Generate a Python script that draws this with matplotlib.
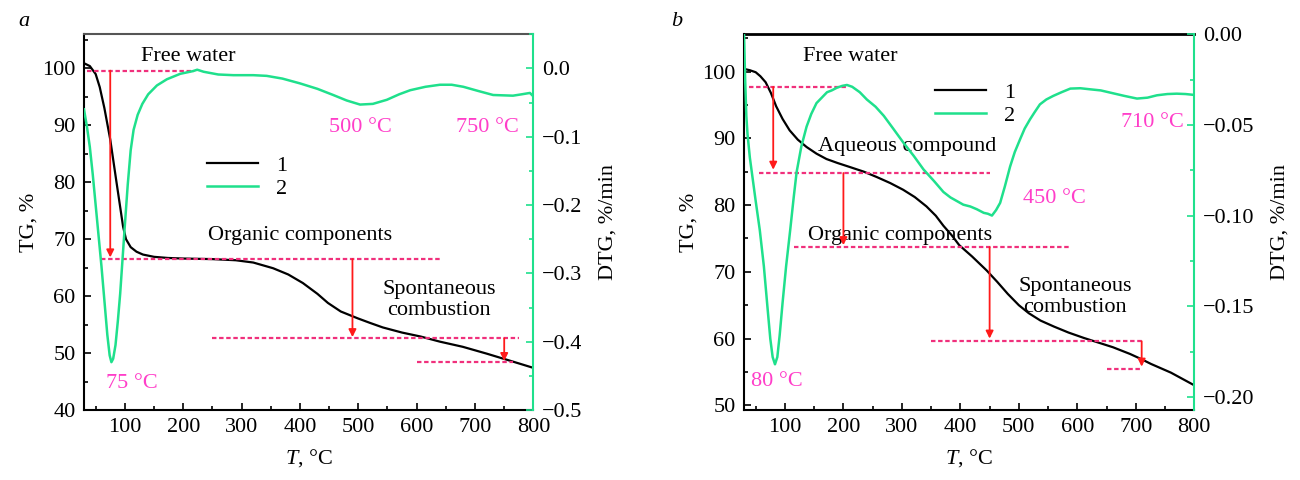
import numpy as np
import matplotlib
matplotlib.use('Agg')
import matplotlib.pyplot as plt
from matplotlib.ticker import MultipleLocator

plt.rcParams['font.family'] = ['Liberation Serif', 'DejaVu Serif']
plt.rcParams['mathtext.fontset'] = 'custom'
plt.rcParams['mathtext.rm'] = 'Liberation Serif'
plt.rcParams['mathtext.it'] = 'Liberation Serif:italic'
plt.rcParams['font.size'] = 16

# ---------------- panel a data ----------------
T_a_tg = [30, 40, 50, 57, 65, 75, 85, 97, 102, 110, 120, 131, 150, 174, 200, 250, 290, 320,
          354, 380, 405, 430, 448, 470, 499, 520, 542, 575, 607, 640, 679, 720, 765, 800]
TG_a = [100.9, 100.4, 99.0, 96.7, 93.0, 87.5, 80.5, 72.2, 70.0, 68.6, 67.8, 67.3, 66.9, 66.7,
        66.6, 66.5, 66.3, 65.9, 64.9, 63.8, 62.3, 60.4, 58.8, 57.3, 56.1, 55.3, 54.5, 53.6,
        52.9, 52.0, 51.1, 49.9, 48.5, 47.4]

T_a_dtg = [30, 35, 40, 45, 50, 55, 60, 65, 70, 74, 77, 80, 84, 88, 92, 96, 100, 105, 110, 115,
           122, 130, 140, 155, 172, 195, 217, 224, 235, 260, 286, 320, 343, 370, 400, 430, 457,
           480, 503, 525, 549, 570, 589, 615, 640, 660, 680, 705, 731, 765, 780, 794, 800]
DTG_a = [-0.06, -0.085, -0.115, -0.155, -0.20, -0.245, -0.29, -0.34, -0.39, -0.42, -0.43,
         -0.425, -0.405, -0.37, -0.33, -0.28, -0.23, -0.17, -0.12, -0.09, -0.068, -0.052,
         -0.038, -0.025, -0.016, -0.008, -0.004, -0.002, -0.005, -0.009, -0.010, -0.010,
         -0.011, -0.015, -0.022, -0.030, -0.039, -0.047, -0.053, -0.052, -0.046, -0.038,
         -0.032, -0.027, -0.024, -0.024, -0.027, -0.033, -0.039, -0.040, -0.038, -0.036, -0.041]

# dashed levels (TG value, T start, T end) and arrows (T, TG from, TG to)
lev_a_y = [99.6, 66.5, 52.6, 48.4]
lev_a_x0 = [35, 60, 250, 600]
lev_a_x1 = [218, 640, 775, 765]
arr_a_x = [75, 490, 750]
arr_a_from = [99.6, 66.5, 52.6]
arr_a_to = [66.8, 52.8, 48.6]

# ---------------- panel b data ----------------
T_b_tg = [30, 40, 50, 58, 67, 76, 85, 96, 108, 122, 137, 154, 171, 190, 211, 235, 257, 280,
          302, 322, 342, 358, 371, 385, 398, 420, 445, 463, 481, 500, 517, 537, 560, 585, 611,
          636, 661, 690, 710, 726, 760, 800]
TG_b = [100.4, 100.2, 99.9, 99.3, 98.4, 96.8, 94.8, 92.9, 91.2, 89.8, 88.7, 87.7, 86.9, 86.3,
        85.7, 85.0, 84.2, 83.3, 82.3, 81.2, 79.8, 78.4, 76.9, 75.5, 74.0, 72.3, 70.2, 68.5,
        66.7, 65.0, 63.8, 62.7, 61.8, 60.9, 60.1, 59.4, 58.7, 57.7, 56.9, 56.2, 54.9, 53.0]

T_b_dtg = [30, 32, 34, 36, 40, 45, 50, 57, 64, 70, 75, 79, 83, 87, 91, 96, 102, 109, 115, 120,
           128, 137, 145, 154, 163, 172, 180, 189, 198, 206, 215, 228, 240, 255, 269, 285, 303,
           320, 337, 355, 371, 383, 394, 405, 417, 428, 440, 447, 454, 461, 468, 476, 485, 493,
           502, 510, 519, 527, 536, 547, 559, 573, 588, 605, 622, 640, 656, 680, 702, 720, 736,
           754, 770, 785, 800]
DTG_b = [0.0, -0.025, -0.045, -0.055, -0.068, -0.080, -0.092, -0.108, -0.128, -0.150, -0.168,
         -0.178, -0.182, -0.178, -0.166, -0.148, -0.128, -0.108, -0.090, -0.076, -0.062,
         -0.051, -0.044, -0.038, -0.035, -0.032, -0.031, -0.0295, -0.0285, -0.028, -0.029,
         -0.032, -0.036, -0.040, -0.045, -0.052, -0.060, -0.067, -0.0746, -0.081, -0.087,
         -0.090, -0.092, -0.094, -0.095, -0.0965, -0.0985, -0.099, -0.100, -0.097, -0.093,
         -0.084, -0.073, -0.065, -0.058, -0.052, -0.047, -0.043, -0.0387, -0.036, -0.034,
         -0.032, -0.030, -0.0298, -0.0304, -0.031, -0.0322, -0.034, -0.0355, -0.035, -0.0337,
         -0.033, -0.0328, -0.033, -0.0335]

lev_b_y = [97.7, 84.8, 73.7, 59.6, 55.5]
lev_b_x0 = [38, 56, 115, 350, 650]
lev_b_x1 = [206, 450, 585, 710, 710]
arr_b_x = [80, 200, 450, 710]
arr_b_from = [97.7, 84.8, 73.7, 59.6]
arr_b_to = [85.3, 74.0, 60.0, 55.8]

GREEN = '#1fe08c'
MAG = '#ff3ec9'
DASH = '#f0307c'

fig = plt.figure(figsize=(13, 4.8), dpi=100)
ax_a = fig.add_axes([0.0646, 0.1458, 0.3457, 0.783])
ax_b = fig.add_axes([0.5723, 0.1458, 0.3464, 0.783])


def setup(ax, ylim_tg, ylim_dtg, tg_major, dtg_major, top_col, top_lw):
    ax2 = ax.twinx()
    ax.set_xlim(30, 800)
    ax.set_ylim(*ylim_tg)
    ax2.set_ylim(*ylim_dtg)
    ax.xaxis.set_major_locator(MultipleLocator(100))
    ax.xaxis.set_minor_locator(MultipleLocator(50))
    ax.yaxis.set_major_locator(MultipleLocator(tg_major))
    ax.yaxis.set_minor_locator(MultipleLocator(tg_major / 2))
    ax2.yaxis.set_major_locator(MultipleLocator(dtg_major))
    ax2.yaxis.set_minor_locator(MultipleLocator(dtg_major / 2))
    ax.tick_params(which='both', direction='in', width=1.2, pad=6, labelsize=16)
    ax.tick_params(which='major', length=5)
    ax.tick_params(which='minor', length=3)
    ax2.tick_params(which='both', direction='in', width=1.2, colors=GREEN,
                    labelcolor='black', pad=6, labelsize=16)
    ax2.tick_params(which='major', length=5)
    ax2.tick_params(which='minor', length=3)
    for s in ['left', 'bottom']:
        ax.spines[s].set_linewidth(1.5)
        ax2.spines[s].set_visible(False)
    ax.spines['top'].set_color(top_col)
    ax.spines['top'].set_linewidth(top_lw)
    ax2.spines['top'].set_visible(False)
    ax.spines['right'].set_visible(False)
    ax2.spines['right'].set_color(GREEN)
    ax2.spines['right'].set_linewidth(1.5)
    ax.set_xlabel(r'$T$, °C', labelpad=7)
    ax.set_ylabel('TG, %', labelpad=3)
    ax2.set_ylabel('DTG, %/min', labelpad=12)
    return ax2


def levels(ax, ys, x0s, x1s, ax_x, a_from, a_to):
    for y, x0, x1 in zip(ys, x0s, x1s):
        ax.hlines(y, x0, x1, colors=DASH, linestyles=(0, (2, 1.2)), lw=1.6, zorder=3)
    for x, y0, y1 in zip(ax_x, a_from, a_to):
        ax.annotate('', xy=(x, y1), xytext=(x, y0),
                    arrowprops=dict(arrowstyle='-|>', color='#ff1a1a', lw=1.3,
                                    mutation_scale=11, shrinkA=0, shrinkB=0), zorder=4)


# ---- panel a ----
a2 = setup(ax_a, (40, 106), (-0.5, 0.05), 10, 0.1, '#555555', 1.5)
l1, = ax_a.plot(T_a_tg, TG_a, color='black', lw=1.6)
l2, = a2.plot(T_a_dtg, DTG_a, color=GREEN, lw=1.8)
levels(ax_a, lev_a_y, lev_a_x0, lev_a_x1, arr_a_x, arr_a_from, arr_a_to)
ax_a.text(208, 102.1, 'Free water', ha='center', va='center')
ax_a.text(400, 70.6, 'Organic components', ha='center', va='center')
ax_a.text(638, 59.3, 'Spontaneous\ncombustion', ha='center', va='center', linespacing=1.1)
ax_a.text(112, 44.7, '75 °C', ha='center', va='center', color=MAG)
ax_a.text(503, 89.6, '500 °C', ha='center', va='center', color=MAG)
ax_a.text(722, 89.6, '750 °C', ha='center', va='center', color=MAG)
a2.legend([l1, l2], ['1', '2'], loc='upper left', bbox_to_anchor=(0.23, 0.73),
          frameon=False, handlelength=2.3, labelspacing=0.1, fontsize=16)
fig.text(0.014, 0.955, 'a', style='italic', fontsize=16, va='center')

# ---- panel b ----
b2 = setup(ax_b, (49.3, 105.6), (-0.2072, 0.0), 10, 0.05, 'black', 2.0)
m1, = ax_b.plot(T_b_tg, TG_b, color='black', lw=1.6)
m2, = b2.plot(T_b_dtg, DTG_b, color=GREEN, lw=1.8)
levels(ax_b, lev_b_y, lev_b_x0, lev_b_x1, arr_b_x, arr_b_from, arr_b_to)
ax_b.text(211, 102.2, 'Free water', ha='center', va='center')
ax_b.text(309, 88.8, 'Aqueous compound', ha='center', va='center')
ax_b.text(297, 75.5, 'Organic components', ha='center', va='center')
ax_b.text(596, 66.2, 'Spontaneous\ncombustion', ha='center', va='center', linespacing=1.1)
ax_b.text(86, 53.5, '80 °C', ha='center', va='center', color=MAG)
ax_b.text(560, 81.0, '450 °C', ha='center', va='center', color=MAG)
ax_b.text(728, 92.4, '710 °C', ha='center', va='center', color=MAG)
b2.legend([m1, m2], ['1', '2'], loc='upper left', bbox_to_anchor=(0.38, 0.925),
          frameon=False, handlelength=2.3, labelspacing=0.1, fontsize=16)
fig.text(0.516, 0.955, 'b', style='italic', fontsize=16, va='center')

fig.savefig('out.png', dpi=100)
